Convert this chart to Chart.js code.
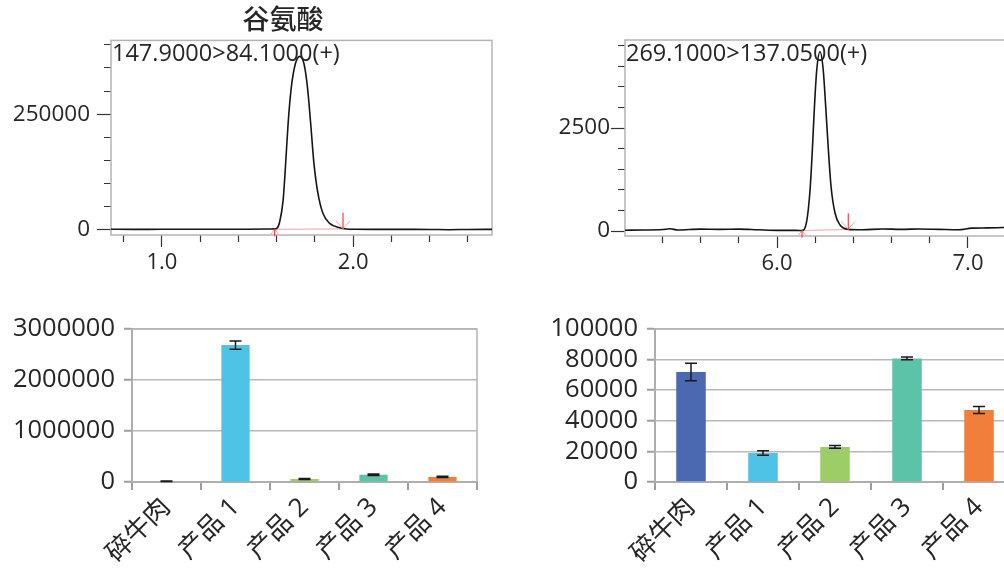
<!DOCTYPE html>
<html>
<head>
<meta charset="utf-8">
<script src="https://cdn.jsdelivr.net/npm/chart.js@4.4.1/dist/chart.umd.min.js"></script>
<style>
  html, body { margin: 0; padding: 0; background: #fff; }
  body { width: 1004px; height: 577px; position: relative; overflow: hidden; }
  canvas { position: absolute; }
</style>
</head>
<body>
<canvas id="chromA" width="566" height="290" style="left:0;top:0"></canvas>
<canvas id="chromB" width="530" height="290" style="left:500px;top:0"></canvas>
<canvas id="barA" width="500" height="277" style="left:0;top:300px"></canvas>
<canvas id="barB" width="530" height="277" style="left:500px;top:300px"></canvas>
<script>
// ---- data ----
const titleA = '谷氨酸';
const transitionA = '147.9000>84.1000(+)';
const transitionB = '269.1000>137.0500(+)';

// chromatogram 1 (retention time, min / intensity)
const timeA = [0.73, 0.85, 1.00, 1.15, 1.30, 1.45, 1.55, 1.59, 1.60, 1.616, 1.634, 1.646, 1.660, 1.677, 1.698, 1.721, 1.743, 1.761, 1.778, 1.795, 1.816, 1.842, 1.877, 1.930, 2.008, 2.10, 2.25, 2.40, 2.50, 2.60, 2.73];
const intensA = [1500, 1400, 1500, 1500, 1600, 1700, 2000, 2500, 3500, 17900, 64600, 136000, 230000, 309000, 359000, 375000, 359000, 309000, 230000, 144000, 79000, 36000, 14400, 5000, 1500, 1400, 1300, 1200, 700, 1200, 1300];
const peakA = [[1.59, 1500], [1.947, 2500]];
const yTicksA = [0, 50000, 100000, 150000, 200000, 250000, 300000, 350000, 400000];
const yLabelsA = [0, 250000];

// chromatogram 2
const timeB = [5.20, 5.30, 5.40, 5.44, 5.48, 5.60, 5.70, 5.80, 5.90, 6.00, 6.10, 6.129, 6.155, 6.173, 6.185, 6.196, 6.208, 6.225, 6.242, 6.255, 6.269, 6.283, 6.304, 6.330, 6.373, 6.45, 6.55, 6.65, 6.75, 6.85, 6.95, 7.02, 7.10, 7.22];
const intensB = [20, 25, 35, 55, 25, 45, 40, 45, 30, 15, 15, 10, 226, 995, 1966, 3017, 3908, 4350, 3908, 3017, 1966, 1075, 430, 146, 40, 30, 50, 40, 50, 40, 30, 70, 75, 90];
const peakB = [[6.131, 10], [6.373, 40]];
const yTicksB = [0, 500, 1000, 1500, 2000, 2500, 3000, 3500, 4000, 4500];
const yLabelsB = [0, 2500];

// bar charts
const samples = ['碎牛肉', '产品 1', '产品 2', '产品 3', '产品 4'];
const valuesA = [15000, 2685000, 59000, 143000, 100000];
const errorsA = [5000, 80000, 8000, 15000, 12000];
const valuesB = [71900, 19000, 22900, 80800, 47000];
const errorsB = [5700, 1500, 900, 900, 2300];

const barColors = ['#4a69b1', '#4fc3e6', '#9dcd67', '#5cc3a8', '#f27e3b'];
const FONT = "'Open Sans', 'Noto Sans CJK SC', sans-serif";

// ---- plugins ----
const boxPlugin = {
  id: 'box',
  beforeDatasetsDraw(chart) {
    const { ctx, chartArea: a } = chart;
    ctx.save();
    ctx.strokeStyle = '#b4b4b4';
    ctx.lineWidth = 1.5;
    ctx.strokeRect(a.left, a.top, a.width, a.height);
    ctx.restore();
  }
};

const transitionLabel = {
  id: 'transition',
  afterDatasetsDraw(chart, args, o) {
    const { ctx, chartArea: a } = chart;
    ctx.save();
    ctx.font = '23.5px ' + FONT;
    ctx.fillStyle = '#262626';
    ctx.textBaseline = 'middle';
    ctx.fillText(o.text, a.left + 1, a.top + 14);
    ctx.restore();
  }
};

const peakMarks = {
  id: 'peakMarks',
  afterDatasetsDraw(chart, args, o) {
    const { ctx, scales: { x, y } } = chart;
    const sx = x.getPixelForValue(o.start[0]), sy = y.getPixelForValue(o.start[1]);
    const ex = x.getPixelForValue(o.end[0]), ey = y.getPixelForValue(o.end[1]);
    ctx.save();
    ctx.lineWidth = 1;
    ctx.strokeStyle = '#f6a5a5';
    ctx.beginPath();
    ctx.moveTo(sx - 4, sy + 5); ctx.lineTo(sx, sy); ctx.lineTo(sx + 4, sy + 5);
    ctx.moveTo(ex - 7, ey - 8); ctx.lineTo(ex, ey); ctx.lineTo(ex + 7, ey - 8);
    ctx.stroke();
    ctx.strokeStyle = '#e8202a';
    ctx.beginPath();
    ctx.moveTo(sx, sy - 1); ctx.lineTo(sx, sy + 7);
    ctx.moveTo(ex, ey - 16); ctx.lineTo(ex, ey);
    ctx.stroke();
    ctx.restore();
  }
};

const errorBars = {
  id: 'errorBars',
  afterDatasetsDraw(chart, args, o) {
    const { ctx, scales: { y } } = chart;
    const ds = chart.data.datasets[0];
    ctx.save();
    ctx.strokeStyle = '#1a1a1a';
    ctx.lineWidth = 1.5;
    chart.getDatasetMeta(0).data.forEach((bar, i) => {
      const top = y.getPixelForValue(ds.data[i] + o.errors[i]);
      const bot = y.getPixelForValue(ds.data[i] - o.errors[i]);
      ctx.beginPath();
      ctx.moveTo(bar.x, top); ctx.lineTo(bar.x, bot);
      ctx.moveTo(bar.x - 6, top); ctx.lineTo(bar.x + 6, top);
      ctx.moveTo(bar.x - 6, bot); ctx.lineTo(bar.x + 6, bot);
      ctx.stroke();
    });
    ctx.restore();
  }
};

Chart.register(boxPlugin);

// ---- chromatograms ----
function chromChart(id, times, intens, peak, label, cfg) {
  const pts = times.map((t, i) => ({ x: t, y: intens[i] }));
  const scales = {
    x: {
      type: 'linear', min: cfg.xMin, max: cfg.xMax,
      border: { display: false },
      grid: { drawOnChartArea: false, tickLength: 12, tickColor: '#333', tickWidth: 1.2,
        tickBorderDash: c => c.tick && Number.isInteger(c.tick.value) ? [] : [7, 100] },
      ticks: { stepSize: 0.2, includeBounds: false, autoSkip: false, maxRotation: 0, padding: 3,
        color: '#262626', font: { family: FONT, size: 22 },
        callback: v => Number.isInteger(v) ? v.toFixed(1) : '' },
      afterFit: s => { s.height = cfg.xHeight; }
    },
    y: {
      min: cfg.yMin, max: cfg.yMax,
      border: { display: false },
      grid: { drawOnChartArea: false, tickLength: 14, tickColor: '#333', tickWidth: 1.2,
        tickBorderDash: c => c.tick && cfg.yLabels.includes(c.tick.value) ? [] : [0, 7, 100] },
      afterBuildTicks: s => { s.ticks = cfg.yTicks.map(v => ({ value: v })); },
      ticks: { autoSkip: false, padding: cfg.yPad,
        color: '#262626', font: { family: FONT, size: 22.5 },
        callback: v => cfg.yLabels.includes(v) ? String(v) : '' },
      afterFit: s => { s.width = cfg.yWidth; }
    }
  };
  if (cfg.rightSpace) {
    // empty right-hand axis so the title centres over the same span as the original
    scales.yR = { position: 'right', min: 0, max: 1, grid: { display: false }, border: { display: false },
      ticks: { display: false }, afterFit: s => { s.width = cfg.rightSpace; } };
  }
  return new Chart(document.getElementById(id), {
    type: 'line',
    data: {
      datasets: [
        { data: pts, borderColor: '#151515', borderWidth: 1.6, pointRadius: 0, cubicInterpolationMode: 'monotone' },
        { data: peak.map(p => ({ x: p[0], y: p[1] })), borderColor: '#f8b4b4', borderWidth: 1.2, pointRadius: 0 }
      ]
    },
    plugins: [transitionLabel, peakMarks],
    options: {
      responsive: false, animation: false,
      layout: { padding: cfg.padding },
      plugins: {
        legend: { display: false }, tooltip: { enabled: false },
        title: cfg.title ? { display: true, text: cfg.title, color: '#262626', font: { family: "'Noto Sans CJK SC'", size: 27, weight: '500' }, padding: { top: 3, bottom: 5 } } : { display: false },
        transition: { text: label },
        peakMarks: { start: peak[0], end: peak[1] }
      },
      scales
    }
  });
}

chromChart('chromA', timeA, intensA, peakA, transitionA, {
  title: titleA, padding: { left: 0, right: 0, top: 0, bottom: 0 }, rightSpace: 74,
  xMin: 0.734, xMax: 2.726, xHeight: 55,
  yMin: -10800, yMax: 409500, yTicks: yTicksA, yLabels: yLabelsA, yWidth: 111, yPad: 7
});

chromChart('chromB', timeB, intensB, peakB, transitionB, {
  title: null, padding: { left: 0, right: 20, top: 40, bottom: 0 },
  xMin: 5.204, xMax: 7.22, xHeight: 54,
  yMin: -121, yMax: 4636, yTicks: yTicksB, yLabels: yLabelsB, yWidth: 125, yPad: 1
});

// ---- bar charts ----
function barChart(id, values, errors, cfg) {
  return new Chart(document.getElementById(id), {
    type: 'bar',
    data: {
      labels: samples,
      datasets: [{ data: values, backgroundColor: barColors, borderWidth: 0, barPercentage: 0.41, categoryPercentage: 1 }]
    },
    plugins: [errorBars],
    options: {
      responsive: false, animation: false,
      layout: { padding: { left: 0, right: cfg.right, top: 29, bottom: 0 } },
      plugins: { legend: { display: false }, tooltip: { enabled: false }, errorBars: { errors } },
      scales: {
        x: {
          border: { display: true, color: '#9e9e9e', width: 2 },
          grid: { offset: true, drawOnChartArea: false, tickLength: 8, color: '#9e9e9e', lineWidth: 2 },
          ticks: { minRotation: 45, maxRotation: 45, autoSkip: false, padding: 2,
            color: '#262626', font: { family: FONT, size: 26 } },
          afterFit: s => { s.height = 95; }
        },
        y: {
          min: 0, max: cfg.max,
          border: { display: true, color: '#9e9e9e', width: 2 },
          grid: { color: '#b8b8b8', lineWidth: 1.5, tickLength: 8, tickColor: '#9e9e9e', tickWidth: 2 },
          ticks: { stepSize: cfg.step, autoSkip: false, padding: 9,
            color: '#262626', font: { family: FONT, size: 25.5 },
            callback: v => String(v) },
          afterFit: s => { s.width = cfg.left; }
        }
      }
    }
  });
}

barChart('barA', valuesA, errorsA, { max: 3000000, step: 1000000, left: 132, right: 23 });
barChart('barB', valuesB, errorsB, { max: 100000, step: 20000, left: 155, right: 15 });
</script>
</body>
</html>
